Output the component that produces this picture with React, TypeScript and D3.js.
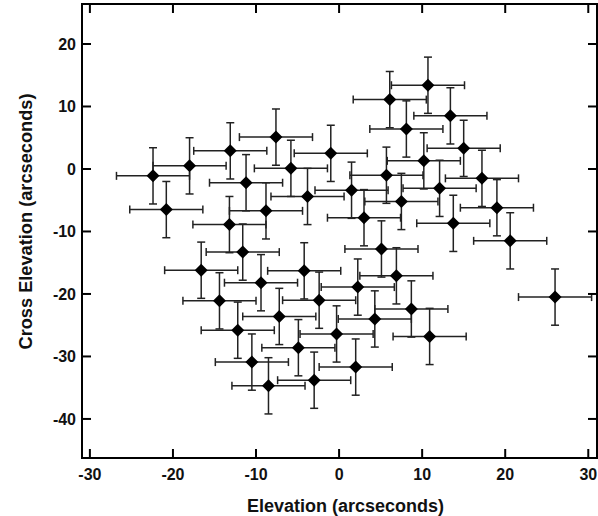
import React from "react";
import * as d3 from "d3";

const elevation = [
  -22.4, -18.0, -20.8, -13.1, -7.6, -11.2, -5.8, -1.0, -3.8, -8.8, -13.2, -11.6,
  1.5, 10.7, 6.1, 13.4, 8.1, 15.0, 10.2, 17.2, 5.7, 12.1, 7.5, 19.0, 3.0, 13.75,
  20.6, 5.1, 26.0, -16.6, -9.4, -4.2, 6.9, 2.25, -2.4, -14.4, -12.2, -7.2, 4.3,
  -0.3, -4.9, -10.5, -8.5, -3.0, 2.0, 8.7, 10.9,
];
const crossElevation = [
  -1.1, 0.5, -6.5, 2.9, 5.1, -2.2, 0.1, 2.5, -4.4, -6.7, -8.9, -13.3,
  -3.4, 13.4, 11.1, 8.5, 6.4, 3.3, 1.3, -1.5, -1.0, -3.1, -5.2, -6.2, -7.8, -8.7,
  -11.5, -12.8, -20.5, -16.2, -18.2, -16.3, -17.1, -18.9, -21.0, -21.1, -25.8, -23.6, -24.0,
  -26.4, -28.6, -30.9, -34.7, -33.8, -31.7, -22.4, -26.8,
];
const elevationError = 4.4;
const crossElevationError = 4.5;
const xTicks = [-30, -20, -10, 0, 10, 20, 30];
const yTicks = [-40, -30, -20, -10, 0, 10, 20];

const W = 598;
const H = 516;
const M = { left: 82, right: 597, top: 4, bottom: 458 };

export default function App() {
  const x = d3.scaleLinear().domain([-30.95, 31.05]).range([M.left, M.right]);
  const y = d3.scaleLinear().domain([-46.25, 26.4]).range([M.bottom, M.top]);
  const font = "'Liberation Sans', Arial, sans-serif";
  const tick = 9;
  const cap = 4;
  const d = 6.5;
  const pts = elevation.map((e, i) => ({ e, c: crossElevation[i] }));
  return (
    <svg width={W} height={H} style={{ position: "absolute", left: 0, top: 0 }} fontFamily={font}>
      <rect x={0} y={0} width={W} height={H} fill="white" />
      {pts.map((p, i) => {
        const cx = x(p.e), cy = y(p.c);
        const x0 = x(p.e - elevationError), x1 = x(p.e + elevationError);
        const y0 = y(p.c - crossElevationError), y1 = y(p.c + crossElevationError);
        return (
          <g key={"e" + i} stroke="#222" strokeWidth={1.5} fill="none">
            <line x1={x0} x2={x1} y1={cy} y2={cy} />
            <line x1={x0} x2={x0} y1={cy - cap} y2={cy + cap} />
            <line x1={x1} x2={x1} y1={cy - cap} y2={cy + cap} />
            <line x1={cx} x2={cx} y1={y0} y2={y1} />
            <line x1={cx - cap} x2={cx + cap} y1={y0} y2={y0} />
            <line x1={cx - cap} x2={cx + cap} y1={y1} y2={y1} />
          </g>
        );
      })}
      {pts.map((p, i) => {
        const cx = x(p.e), cy = y(p.c);
        return (
          <path key={"m" + i} d={`M${cx},${cy - d}L${cx + d},${cy}L${cx},${cy + d}L${cx - d},${cy}Z`} fill="black" />
        );
      })}
      <rect x={M.left} y={M.top} width={M.right - M.left} height={M.bottom - M.top} fill="none" stroke="black" strokeWidth={2} />
      {xTicks.map((t) => (
        <g key={"x" + t}>
          <line x1={x(t)} x2={x(t)} y1={M.bottom} y2={M.bottom - tick} stroke="black" strokeWidth={2} />
          <line x1={x(t)} x2={x(t)} y1={M.top} y2={M.top + tick} stroke="black" strokeWidth={2} />
          <text x={x(t)} y={480} textAnchor="middle" fontSize={16} fontWeight="bold" fill="#111">{t}</text>
        </g>
      ))}
      {yTicks.map((t) => (
        <g key={"y" + t}>
          <line x1={M.left} x2={M.left + tick} y1={y(t)} y2={y(t)} stroke="black" strokeWidth={2} />
          <line x1={M.right} x2={M.right - tick} y1={y(t)} y2={y(t)} stroke="black" strokeWidth={2} />
          <text x={76} y={y(t)} dy="0.36em" textAnchor="end" fontSize={16} fontWeight="bold" fill="#111">{t}</text>
        </g>
      ))}
      <text x={345.5} y={512} textAnchor="middle" fontSize={18} fontWeight="bold" fill="#111" textLength={197} lengthAdjust="spacingAndGlyphs">Elevation (arcseconds)</text>
      <text transform={`translate(32,221.5) rotate(-90)`} textAnchor="middle" fontSize={18} fontWeight="bold" fill="#111" textLength={256} lengthAdjust="spacingAndGlyphs">Cross Elevation (arcseconds)</text>
    </svg>
  );
}
